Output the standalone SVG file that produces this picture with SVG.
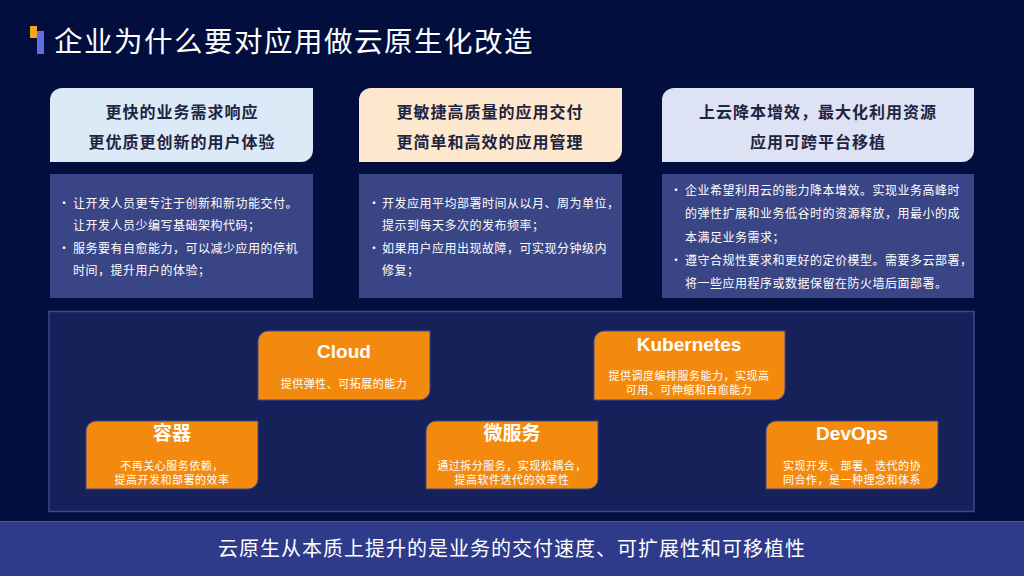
<svg xmlns="http://www.w3.org/2000/svg" width="1024" height="576" viewBox="0 0 1024 576">
<defs>
<style>
.cjk{font-family:"Noto Sans CJK SC","Noto Sans",sans-serif}
.title{font-size:28.5px;fill:#ffffff;letter-spacing:1.5px}
.hd{font-size:16px;font-weight:bold;fill:#1f2440;text-anchor:middle;letter-spacing:1px}
.bd{font-size:12px;fill:#ffffff;letter-spacing:0.5px}
.bodycard{fill:#394584}
.ob{fill:#F38A0E;stroke:#3F4E96;stroke-width:1}
.ot{font-family:"Liberation Sans","Noto Sans CJK SC",sans-serif;font-size:19px;font-weight:bold;fill:#ffffff;text-anchor:middle}
.os{font-size:11px;fill:#ffffff;text-anchor:middle;letter-spacing:0.5px}
.ft{font-size:20px;fill:#ffffff;text-anchor:middle;letter-spacing:1px}
</style>
</defs>
<rect x="0" y="0" width="1024" height="576" fill="#020F3E"/>
<g id="title">
<rect x="30" y="26" width="7" height="12" fill="#F5A414"/>
<rect x="37" y="31" width="7" height="23" fill="#5F6FE0"/>
<text class="cjk title" x="54" y="52">企业为什么要对应用做云原生化改造</text>
</g>
<g id="card1">
<path d="M62,88 H313 V150 A12,12 0 0 1 301,162 H50 V100 A12,12 0 0 1 62,88 Z" fill="#DCE9F7"/>
<text class="cjk hd" x="182" y="118">更快的业务需求响应</text>
<text class="cjk hd" x="182" y="148">更优质更创新的用户体验</text>
<rect class="bodycard" x="50" y="174" width="263" height="124"/>
<text class="cjk bd" x="58" y="208">•</text>
<text class="cjk bd" x="73" y="208">让开发人员更专注于创新和新功能交付。</text>
<text class="cjk bd" x="73" y="230">让开发人员少编写基础架构代码；</text>
<text class="cjk bd" x="58" y="253">•</text>
<text class="cjk bd" x="73" y="253">服务要有自愈能力，可以减少应用的停机</text>
<text class="cjk bd" x="73" y="275">时间，提升用户的体验；</text>
</g>
<g id="card2">
<path d="M371,88 H622 V150 A12,12 0 0 1 610,162 H359 V100 A12,12 0 0 1 371,88 Z" fill="#FDE8CE"/>
<text class="cjk hd" x="490" y="118">更敏捷高质量的应用交付</text>
<text class="cjk hd" x="490" y="148">更简单和高效的应用管理</text>
<rect class="bodycard" x="359" y="174" width="263" height="124"/>
<text class="cjk bd" x="368" y="208">•</text>
<text class="cjk bd" x="382" y="208">开发应用平均部署时间从以月、周为单位，</text>
<text class="cjk bd" x="382" y="230">提示到每天多次的发布频率；</text>
<text class="cjk bd" x="368" y="253">•</text>
<text class="cjk bd" x="382" y="253">如果用户应用出现故障，可实现分钟级内</text>
<text class="cjk bd" x="382" y="275">修复；</text>
</g>
<g id="card3">
<path d="M674,88 H974 V150 A12,12 0 0 1 962,162 H662 V100 A12,12 0 0 1 674,88 Z" fill="#DEE2F5"/>
<text class="cjk hd" x="818" y="118">上云降本增效，最大化利用资源</text>
<text class="cjk hd" x="818" y="148">应用可跨平台移植</text>
<rect class="bodycard" x="662" y="174" width="312" height="124"/>
<text class="cjk bd" x="670" y="195">•</text>
<text class="cjk bd" x="685" y="195">企业希望利用云的能力降本增效。实现业务高峰时</text>
<text class="cjk bd" x="685" y="218">的弹性扩展和业务低谷时的资源释放，用最小的成</text>
<text class="cjk bd" x="685" y="242">本满足业务需求；</text>
<text class="cjk bd" x="670" y="265">•</text>
<text class="cjk bd" x="685" y="265">遵守合规性要求和更好的定价模型。需要多云部署，</text>
<text class="cjk bd" x="685" y="288">将一些应用程序或数据保留在防火墙后面部署。</text>
</g>
<g id="panel">
<rect x="49" y="311.5" width="925" height="200" fill="#152158" stroke="#3A4A8C" stroke-width="1.5"/>
</g>
<g id="cloud">
<path class="ob" d="M268,331 H430 V390 A10,10 0 0 1 420,400 H258 V341 A10,10 0 0 1 268,331 Z"/>
<text class="ot" x="344" y="358">Cloud</text>
<text class="cjk os" x="344" y="388">提供弹性、可拓展的能力</text>
</g>
<g id="kubernetes">
<path class="ob" d="M604,331 H785 V390 A10,10 0 0 1 775,400 H594 V341 A10,10 0 0 1 604,331 Z"/>
<text class="ot" x="689" y="351">Kubernetes</text>
<text class="cjk os" x="689" y="380">提供调度编排服务能力，实现高</text>
<text class="cjk os" x="689" y="394">可用、可伸缩和自愈能力</text>
</g>
<g id="container">
<path class="ob" d="M96,421 H258 V479 A10,10 0 0 1 248,489 H86 V431 A10,10 0 0 1 96,421 Z"/>
<text class="ot" x="172" y="440" style="font-family:'Noto Sans CJK SC',sans-serif">容器</text>
<text class="cjk os" x="172" y="470">不再关心服务依赖，</text>
<text class="cjk os" x="172" y="484">提高开发和部署的效率</text>
</g>
<g id="microservice">
<path class="ob" d="M436,421 H598 V479 A10,10 0 0 1 588,489 H426 V431 A10,10 0 0 1 436,421 Z"/>
<text class="ot" x="512" y="440" style="font-family:'Noto Sans CJK SC',sans-serif">微服务</text>
<text class="cjk os" x="512" y="470">通过拆分服务，实现松耦合，</text>
<text class="cjk os" x="512" y="484">提高软件迭代的效率性</text>
</g>
<g id="devops">
<path class="ob" d="M776,421 H938 V479 A10,10 0 0 1 928,489 H766 V431 A10,10 0 0 1 776,421 Z"/>
<text class="ot" x="852" y="440">DevOps</text>
<text class="cjk os" x="852" y="470">实现开发、部署、迭代的协</text>
<text class="cjk os" x="852" y="484">同合作，是一种理念和体系</text>
</g>
<g id="footer">
<rect x="0" y="521" width="1024" height="55" fill="#2E3A8A"/>
<line x1="0" y1="521.5" x2="1024" y2="521.5" stroke="#4656A8" stroke-width="1"/>
<text class="cjk ft" x="512" y="556">云原生从本质上提升的是业务的交付速度、可扩展性和可移植性</text>
</g>
<g id="connectors"></g>
</svg>
